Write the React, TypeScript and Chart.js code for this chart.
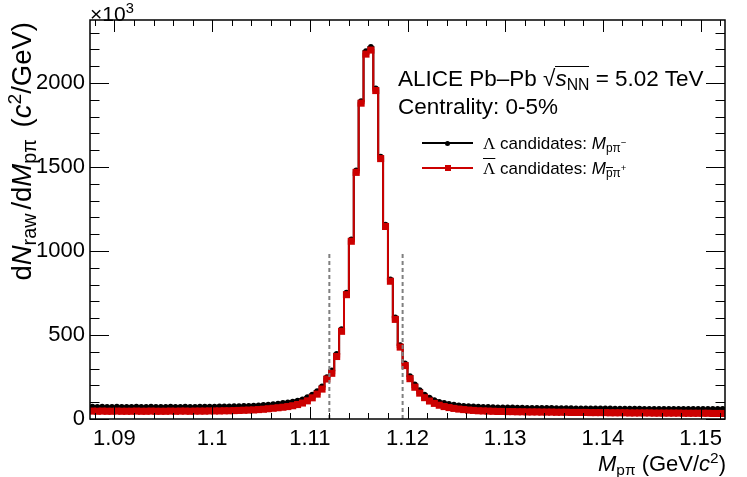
import React, { useEffect, useRef } from "react";
import { Chart, registerables } from "chart.js";

Chart.register(...registerables);

// histogram binning (GeV/c^2)
const binLow = 1.0875;
const binWidth = 0.0005;
const xMin = 1.0875;
const xMax = 1.1525;
const yMax = 2375;
const xTicks = [1.09, 1.1, 1.11, 1.12, 1.13, 1.14, 1.15];
const yTicks = [0, 500, 1000, 1500, 2000];

// counts per bin, in units of 10^3 (c^2/GeV)
const lambdaCounts = [
	74, 73, 74, 73, 73, 74, 73, 73, 73, 74,
	73, 73, 74, 73, 73, 73, 74, 73, 73, 74,
	73, 73, 74, 74, 74, 74, 75, 75, 76, 77,
	77, 78, 79, 80, 82, 84, 86, 89, 92, 96,
	99, 104, 110, 118, 130, 146, 166, 194, 250, 290,
	388, 535, 752, 1070, 1480, 1892, 2190, 2215, 1968, 1562,
	1158, 832, 605, 440, 332, 256, 206, 172, 146, 127,
	113, 103, 96, 90, 86, 82, 79, 77, 75, 74,
	72, 72, 71, 70, 70, 69, 69, 68, 68, 67,
	67, 67, 66, 66, 66, 65, 65, 65, 65, 64,
	64, 64, 64, 63, 63, 63, 63, 62, 62, 62,
	62, 62, 62, 61, 61, 61, 61, 61, 61, 61,
	61, 60, 60, 60, 60, 60, 60, 60, 60, 60,
];

const antiLambdaCounts = [
	47, 46, 47, 46, 46, 47, 46, 46, 46, 47,
	46, 46, 47, 46, 46, 46, 47, 46, 47, 47,
	46, 47, 47, 47, 48, 48, 48, 49, 49, 50,
	51, 52, 53, 54, 56, 58, 61, 64, 67, 70,
	74, 79, 86, 95, 108, 126, 148, 178, 238, 272,
	372, 522, 740, 1058, 1468, 1880, 2172, 2196, 1955, 1550,
	1146, 820, 593, 428, 318, 240, 189, 154, 127, 107,
	93, 82, 74, 68, 63, 59, 56, 53, 51, 49,
	48, 47, 46, 45, 45, 44, 44, 43, 43, 42,
	42, 42, 41, 41, 41, 40, 40, 40, 39, 39,
	39, 39, 38, 38, 38, 38, 37, 37, 37, 37,
	36, 36, 36, 36, 36, 35, 35, 35, 35, 35,
	35, 34, 34, 34, 34, 34, 34, 33, 33, 33,
];

// signal window
const cutEdges = [1.112, 1.1195];
const cutTop = 1000;

const RED = "#cc0000";
const FONT = "'Liberation Sans', Arial, sans-serif";

const stepPoints = (vals: number[]) => {
	const pts = vals.map((v, i) => ({ x: binLow + i * binWidth, y: v }));
	pts.push({ x: binLow + vals.length * binWidth, y: vals[vals.length - 1] });
	return pts;
};

const centerPoints = (vals: number[]) =>
	vals.map((v, i) => ({ x: binLow + (i + 0.5) * binWidth, y: v }));

// ROOT style frame with inward ticks on all four sides
const frameTicks = {
	id: "frameTicks",
	afterDraw(chart: any) {
		const { ctx, chartArea: a, scales } = chart;
		const xs = scales.x;
		const ys = scales.y;
		ctx.save();
		ctx.strokeStyle = "#000";
		ctx.lineWidth = 1;
		ctx.beginPath();
		for (let k = Math.ceil(xs.min / 0.002 - 1e-6); k * 0.002 <= xs.max + 1e-9; k++) {
			const px = Math.round(xs.getPixelForValue(k * 0.002)) + 0.5;
			const len = k % 5 === 0 ? 12 : 6;
			ctx.moveTo(px, a.bottom);
			ctx.lineTo(px, a.bottom - len);
			ctx.moveTo(px, a.top);
			ctx.lineTo(px, a.top + len);
		}
		for (let k = 0; k * 100 <= ys.max; k++) {
			const py = Math.round(ys.getPixelForValue(k * 100)) + 0.5;
			const len = k % 5 === 0 ? 19 : 9.5;
			ctx.moveTo(a.left, py);
			ctx.lineTo(a.left + len, py);
			ctx.moveTo(a.right, py);
			ctx.lineTo(a.right - len, py);
		}
		ctx.stroke();
		ctx.lineWidth = 1.5;
		ctx.strokeRect(a.left, a.top, a.right - a.left, a.bottom - a.top);
		ctx.restore();
	},
};

const sub: React.CSSProperties = { fontSize: "0.7em", verticalAlign: "-0.28em" };
const titleSub: React.CSSProperties = { fontSize: "0.72em", verticalAlign: "-0.28em", marginRight: "0.2em" };
const supInSub: React.CSSProperties = { fontSize: "0.8em", verticalAlign: "0.6em" };

const App: React.FC = () => {
	const chartRef = useRef<HTMLCanvasElement>(null);
	const chartInstance = useRef<Chart | null>(null);

	useEffect(() => {
		if (!chartRef.current) return;
		if (chartInstance.current) chartInstance.current.destroy();

		const cutSets = cutEdges.map((x) => ({
			type: "line" as const,
			data: [{ x, y: 0 }, { x, y: cutTop }],
			borderColor: "#808080",
			borderWidth: 2,
			borderDash: [4, 3],
			pointRadius: 0,
			order: 0,
		}));

		chartInstance.current = new Chart(chartRef.current, {
			type: "line",
			data: {
				datasets: [
					...cutSets,
					{
						data: centerPoints(antiLambdaCounts),
						showLine: false,
						pointStyle: "rect",
						pointRadius: 5,
						pointBackgroundColor: RED,
						pointBorderWidth: 0,
						order: 1,
					},
					{
						data: stepPoints(antiLambdaCounts),
						stepped: "before",
						borderColor: RED,
						borderWidth: 2,
						pointRadius: 0,
						order: 2,
					},
					{
						data: centerPoints(lambdaCounts),
						showLine: false,
						pointStyle: "circle",
						pointRadius: 2.8,
						pointBackgroundColor: "#000",
						pointBorderWidth: 0,
						order: 3,
					},
					{
						data: stepPoints(lambdaCounts),
						stepped: "before",
						borderColor: "#000",
						borderWidth: 2,
						pointRadius: 0,
						order: 4,
					},
				],
			},
			options: {
				animation: false,
				responsive: true,
				maintainAspectRatio: false,
				events: [],
				layout: { padding: { top: 20, right: 22, left: 0, bottom: 0 } },
				plugins: {
					legend: { display: false },
					tooltip: { enabled: false },
				},
				scales: {
					x: {
						type: "linear",
						min: xMin,
						max: xMax,
						grid: { display: false, drawTicks: false },
						border: { display: false },
						afterFit: (scale: any) => {
							scale.height = 58;
						},
						afterBuildTicks: (scale: any) => {
							scale.ticks = xTicks.map((value) => ({ value }));
						},
						ticks: {
							autoSkip: false,
							maxRotation: 0,
							padding: 7,
							color: "#000",
							font: { family: FONT, size: 22 },
							callback: (v: any) => String(Number(Number(v).toFixed(2))),
						},
					},
					y: {
						type: "linear",
						min: 0,
						max: yMax,
						grid: { display: false, drawTicks: false },
						border: { display: false },
						afterFit: (scale: any) => {
							scale.width = 90;
						},
						afterBuildTicks: (scale: any) => {
							scale.ticks = yTicks.map((value) => ({ value }));
						},
						ticks: {
							autoSkip: false,
							padding: 5,
							color: "#000",
							font: { family: FONT, size: 22 },
							callback: (v: any) => String(v),
						},
					},
				},
			},
			plugins: [frameTicks],
		});

		return () => {
			if (chartInstance.current) {
				chartInstance.current.destroy();
				chartInstance.current = null;
			}
		};
	}, []);

	const abs = (left: number, top: number, size: number): React.CSSProperties => ({
		position: "absolute",
		left,
		top,
		fontSize: size,
		lineHeight: 1,
		whiteSpace: "nowrap",
	});

	return (
		<div
			style={{
				position: "fixed",
				left: 0,
				top: 0,
				width: 747,
				height: 477,
				background: "#fff",
				fontFamily: FONT,
				color: "#000",
			}}
		>
			<canvas ref={chartRef}></canvas>

			<div style={abs(90, 1, 21)}>
				×10<span style={{ fontSize: "0.7em", verticalAlign: "0.55em" }}>3</span>
			</div>

			<div
				style={{
					...abs(5, 342, 27.5),
					width: 320,
					textAlign: "right",
					transform: "rotate(-90deg)",
					transformOrigin: "left top",
				}}
			>
				d<i>N</i><span style={titleSub}>raw</span>/d<i>M</i><span style={titleSub}>pπ</span> (<i>c</i>
				<span style={{ fontSize: "0.7em", verticalAlign: "0.5em" }}>2</span>/GeV)
			</div>

			<div style={{ ...abs(426, 450, 22), width: 300, textAlign: "right" }}>
				<i>M</i><span style={sub}>pπ</span> (GeV/<i>c</i>
				<span style={{ fontSize: "0.7em", verticalAlign: "0.5em" }}>2</span>)
			</div>

			<div style={abs(398, 66, 22.5)}>
				ALICE Pb–Pb √
				<span style={{ display: "inline-block", borderTop: "1.5px solid #000", lineHeight: 1.05 }}>
					<i>s</i>
					<span style={sub}>NN</span>
				</span>{" "}
				= 5.02 TeV
			</div>
			<div style={abs(398, 96, 22.5)}>Centrality: 0-5%</div>

			<div style={{ position: "absolute", left: 422, top: 142, width: 51, height: 2, background: "#000" }} />
			<div
				style={{
					position: "absolute",
					left: 445,
					top: 140.5,
					width: 5,
					height: 5,
					borderRadius: "50%",
					background: "#000",
				}}
			/>
			<div style={abs(483, 134.5, 17)}>
				<span style={{ fontFamily: "'Liberation Serif', serif" }}>Λ</span> candidates: <i>M</i>
				<span style={sub}>
					pπ<span style={supInSub}>−</span>
				</span>
			</div>

			<div style={{ position: "absolute", left: 422, top: 167, width: 51, height: 2, background: RED }} />
			<div
				style={{
					position: "absolute",
					left: 444.5,
					top: 165,
					width: 6,
					height: 6,
					background: RED,
				}}
			/>
			<div style={abs(483, 159.5, 17)}>
				<span style={{ fontFamily: "'Liberation Serif', serif", textDecoration: "overline" }}>Λ</span>{" "}
				candidates: <i>M</i>
				<span style={sub}>
					<span style={{ display: "inline-block", borderTop: "1px solid #000", lineHeight: 1 }}>p</span>π
					<span style={supInSub}>+</span>
				</span>
			</div>
		</div>
	);
};

export default App;
